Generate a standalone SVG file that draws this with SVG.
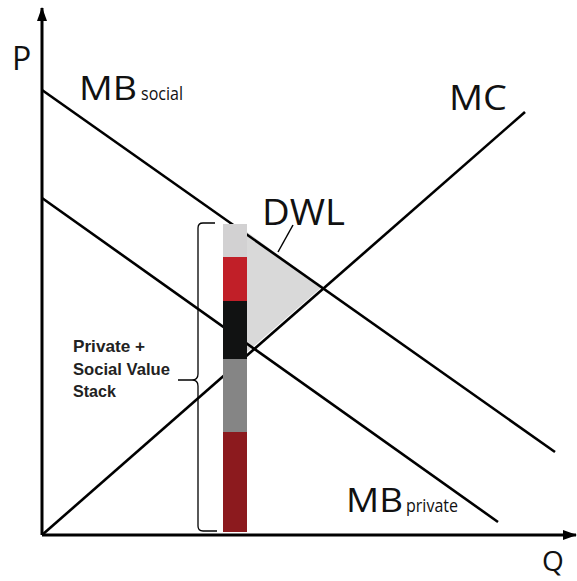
<svg xmlns="http://www.w3.org/2000/svg" width="577" height="581" viewBox="0 0 577 581">
<style>
.ln{stroke:#000;stroke-width:2.6;fill:none}
.ax{stroke:#000;stroke-width:3;fill:none}
.lbl{font-family:"Open Sans","Noto Sans",sans-serif;fill:#111}
.stk{font-family:"Liberation Sans",Arial,sans-serif;font-weight:bold;font-size:17px;fill:#222}
</style>
<defs>
<marker id="ah" viewBox="0 0 14 10" refX="13" refY="5" markerWidth="14" markerHeight="10" markerUnits="userSpaceOnUse" orient="auto">
<path d="M0,0 L14,5 L0,10 z" fill="#000"/>
</marker>
</defs>
<g id="dwl">
<polygon points="247,232 322,287 247,352" fill="#d9d9d9"/>
</g>
<g id="connectors">
<line class="ax" x1="42" y1="535" x2="42" y2="8" marker-end="url(#ah)"/>
<line class="ax" x1="42" y1="535" x2="576" y2="535" marker-end="url(#ah)"/>
<line class="ln" x1="42" y1="90" x2="555" y2="452"/>
<line class="ln" x1="42" y1="198" x2="498" y2="522"/>
<line class="ln" x1="42" y1="535" x2="525" y2="112"/>
<line stroke="#000" stroke-width="1.5" x1="293" y1="225" x2="278" y2="252"/>
<path d="M215,223 H203 Q198,223 198,228 V374 Q198,380 192,380 H178 M192,380 Q198,380 198,386 V526 Q198,531 203,531 H217" stroke="#000" stroke-width="1.3" fill="none"/>
</g>
<g id="stack">
<rect x="223" y="224" width="24" height="33" fill="#d2d1d2"/>
<rect x="223" y="257" width="24" height="44" fill="#c11f28"/>
<rect x="223" y="301" width="24" height="58" fill="#111212"/>
<rect x="223" y="359" width="24" height="73" fill="#858585"/>
<rect x="223" y="432" width="24" height="100" fill="#8c1a1e"/>
</g>
<g id="labels">
<text class="lbl" x="12" y="70" font-size="32">P</text>
<text class="lbl" x="79" y="100" font-size="33" textLength="58" lengthAdjust="spacingAndGlyphs">MB</text>
<text class="lbl" x="141" y="100" font-size="18" textLength="42" lengthAdjust="spacingAndGlyphs">social</text>
<text class="lbl" x="449" y="110" font-size="35" textLength="58" lengthAdjust="spacingAndGlyphs">MC</text>
<text class="lbl" x="262" y="225" font-size="37" textLength="83" lengthAdjust="spacingAndGlyphs">DWL</text>
<text class="lbl" x="346" y="512" font-size="33" textLength="57" lengthAdjust="spacingAndGlyphs">MB</text>
<text class="lbl" x="406" y="512" font-size="18" textLength="52" lengthAdjust="spacingAndGlyphs">private</text>
<text class="lbl" x="542" y="571" font-size="28">Q</text>
<text class="stk" x="73" y="352" textLength="72" lengthAdjust="spacingAndGlyphs">Private +</text>
<text class="stk" x="73" y="375" textLength="97" lengthAdjust="spacingAndGlyphs">Social Value</text>
<text class="stk" x="73" y="397" textLength="43" lengthAdjust="spacingAndGlyphs">Stack</text>
</g>
</svg>
